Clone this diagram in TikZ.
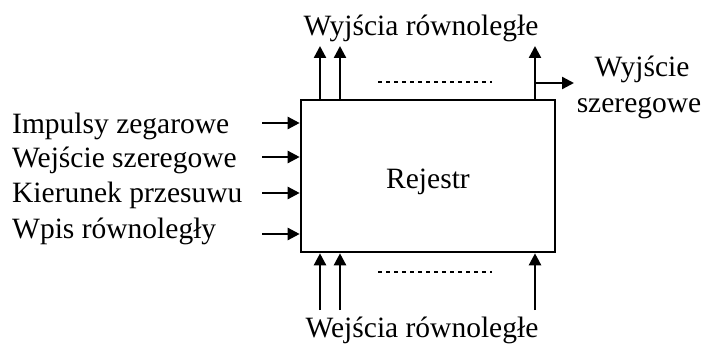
\documentclass[tikz,border=0pt]{standalone}
\usepackage{fontspec}
\setmainfont{Liberation Serif}
\usetikzlibrary{arrows.meta}
\begin{document}
\begin{tikzpicture}[x=1pt,y=-1pt,
  every node/.style={inner sep=0pt,font=\fontsize{29.5}{36}\selectfont},
  wire/.style={line width=2.4pt,-{Triangle[length=12pt,width=12pt]}},
  dots/.style={line width=2pt,dash pattern=on 4pt off 4pt}]
\useasboundingbox (0,0) rectangle (704,345);
% register block
\node[draw,line width=2.6pt,minimum width=254pt,minimum height=152pt] (reg) at (428,176) {};
\node[anchor=base] (name) at (428,188) {Rejestr};
% control inputs on the left
\node[anchor=base west] (clk) at (12,133) {Impulsy zegarowe};
\node[anchor=base west] (sin) at (12,167) {Wejście szeregowe};
\node[anchor=base west] (dir) at (12,202) {Kierunek przesuwu};
\node[anchor=base west] (par) at (12,238) {Wpis równoległy};
\coordinate (c1) at (262,123);
\coordinate (c2) at (262,157);
\coordinate (c3) at (262,193);
\coordinate (c4) at (262,234);
\draw[wire] (c1) -- (c1 -| reg.west);
\draw[wire] (c2) -- (c2 -| reg.west);
\draw[wire] (c3) -- (c3 -| reg.west);
\draw[wire] (c4) -- (c4 -| reg.west);
% parallel outputs
\node[anchor=base] (pout) at (421,36) {Wyjścia równoległe};
\coordinate (o1) at (320,46);
\coordinate (o2) at (340,46);
\coordinate (o3) at (535,46);
\draw[wire] (o1 |- reg.north) -- (o1);
\draw[wire] (o2 |- reg.north) -- (o2);
\draw[wire] (o3 |- reg.north) -- (o3);
\draw[dots] (378,82) -- (492,82);
% serial output
\node[anchor=base] (sout1) at (642,77) {Wyjście};
\node[anchor=base] (sout2) at (639,112) {szeregowe};
\coordinate (so) at (574,83);
\draw[wire] (o3 |- so) -- (so);
% parallel inputs
\node[anchor=base] (pin) at (422,337) {Wejścia równoległe};
\coordinate (i1) at (320,310);
\coordinate (i2) at (340,310);
\coordinate (i3) at (535,310);
\draw[wire] (i1) -- (i1 |- reg.south);
\draw[wire] (i2) -- (i2 |- reg.south);
\draw[wire] (i3) -- (i3 |- reg.south);
\draw[dots] (378,272) -- (492,272);
\end{tikzpicture}
\end{document}
